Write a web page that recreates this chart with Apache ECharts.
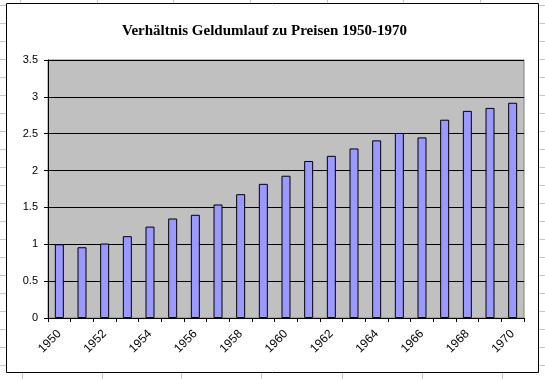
<!DOCTYPE html>
<html>
<head>
<meta charset="utf-8">
<script src="https://cdn.jsdelivr.net/npm/echarts@6/dist/echarts.min.js"></script>
<style>
html,body{margin:0;padding:0;background:#fff;}
#c{width:545px;height:379px;}
</style>
</head>
<body>
<div id="c"></div>
<script>
var years = ['1950','1951','1952','1953','1954','1955','1956','1957','1958','1959','1960','1961','1962','1963','1964','1965','1966','1967','1968','1969','1970'];
var ratio = [1.00,0.96,1.01,1.11,1.24,1.35,1.40,1.54,1.68,1.82,1.93,2.13,2.20,2.30,2.41,2.51,2.45,2.69,2.81,2.85,2.92];
var yTicks = {min:0, max:3.5, interval:0.5};

// spreadsheet cell lines visible around the chart frame (decoration)
var deco = [];
var gridColor = '#c6c6c6';
var topCols = [20,97,173,250,327,403,480];
var botCols = [22,102,181,261,342,422,502];
topCols.forEach(function(x){deco.push({type:'line',z:-100,shape:{x1:x+0.5,y1:0,x2:x+0.5,y2:3},style:{stroke:gridColor,lineWidth:1}});});
botCols.forEach(function(x){deco.push({type:'line',z:-100,shape:{x1:x+0.5,y1:373,x2:x+0.5,y2:379},style:{stroke:gridColor,lineWidth:1}});});
for (var y=5; y<379; y+=18){
  deco.push({type:'line',z:-100,shape:{x1:0,y1:y+0.5,x2:6,y2:y+0.5},style:{stroke:gridColor,lineWidth:1}});
  deco.push({type:'line',z:-100,shape:{x1:539,y1:y+0.5,x2:545,y2:y+0.5},style:{stroke:gridColor,lineWidth:1}});
}
deco.push({type:'rect',z:-99,shape:{x:6.5,y:3.5,width:532,height:369},style:{fill:'#fff',stroke:'#000',lineWidth:1}});

var chart = echarts.init(document.getElementById('c'), null, {renderer:'canvas'});
chart.setOption({
  animation:false,
  backgroundColor:'#fff',
  graphic: deco,
  title:{
    text:'Verhältnis Geldumlauf zu Preisen 1950-1970',
    left:117, top:19,
    textStyle:{fontFamily:'Liberation Serif',fontWeight:'bold',fontSize:15,color:'#000'}
  },
  grid:{
    left:48, top:60, width:476, height:258,
    show:true, backgroundColor:'#c0c0c0', borderColor:'#808080', borderWidth:1
  },
  xAxis:{
    type:'category', data:years, boundaryGap:true,
    axisLine:{lineStyle:{color:'#000',width:1}},
    axisTick:{show:true, interval:0, length:4, lineStyle:{color:'#000'}},
    axisLabel:{interval:1, rotate:45, margin:14, color:'#000', fontFamily:'Liberation Sans', fontSize:12}
  },
  yAxis:{
    type:'value', min:yTicks.min, max:yTicks.max, interval:yTicks.interval,
    axisLine:{show:true, lineStyle:{color:'#000',width:1}},
    axisTick:{show:true, length:4, lineStyle:{color:'#000'}},
    splitLine:{show:true, lineStyle:{color:'#000',width:1}},
    axisLabel:{margin:10, color:'#000', fontFamily:'Liberation Sans', fontSize:11}
  },
  series:[{
    type:'bar', data:ratio, barWidth:9,
    itemStyle:{color:'#9999ff', borderColor:'#000', borderWidth:1}
  }]
});
</script>
</body>
</html>
